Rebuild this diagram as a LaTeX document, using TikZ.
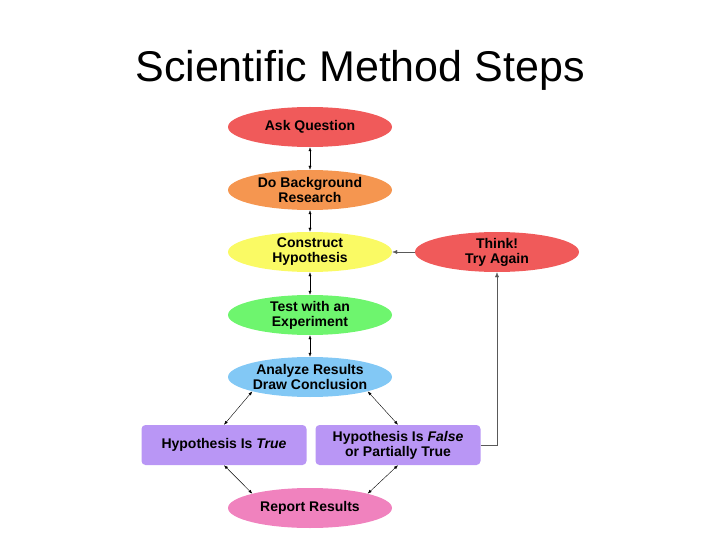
\documentclass[tikz,border=0pt]{standalone}
\usepackage{fontspec}
\setmainfont{Liberation Sans}
\usetikzlibrary{shapes.geometric,arrows.meta}
\definecolor{StepRed}{RGB}{240,90,90}
\definecolor{StepOrange}{RGB}{245,150,80}
\definecolor{StepYellow}{RGB}{250,250,100}
\definecolor{StepGreen}{RGB}{110,245,110}
\definecolor{StepBlue}{RGB}{130,200,245}
\definecolor{StepPurple}{RGB}{185,150,245}
\definecolor{StepPink}{RGB}{240,130,190}

\begin{document}
\begin{tikzpicture}[x=1pt,y=-1pt,
  step/.style={ellipse,fill=#1,minimum width=164pt,minimum height=40pt,inner sep=0pt,align=center,font=\fontsize{14}{15}\selectfont\bfseries},
  box/.style={rectangle,rounded corners=4pt,fill=StepPurple,minimum width=165pt,minimum height=40pt,inner sep=0pt,align=center,font=\fontsize{14}{15}\selectfont\bfseries},
  link/.style={{Latex[length=4pt,width=3pt]}-{Latex[length=4pt,width=3pt]},thin},
  back/.style={-{Latex[length=5pt,width=4pt]},thin,gray!70!black}]
\useasboundingbox (0,0) rectangle (720,540);
\node[font=\fontsize{43}{48}\selectfont] (title) at (360,70) {Scientific Method Steps};
\node[step=StepRed] (ask) at (310,127) {Ask Question};
\node[step=StepOrange] (research) at (310,190) {Do Background\\Research};
\node[step=StepYellow] (hypo) at (310,252) {Construct\\Hypothesis};
\node[step=StepRed] (think) at (497,252) {Think!\\Try Again};
\node[step=StepGreen] (test) at (310,315) {Test with an\\Experiment};
\node[step=StepBlue] (analyze) at (310,377) {Analyze Results\\Draw Conclusion};
\node[box] (true) at (224,445) {Hypothesis Is \textit{True}};
\node[box] (false) at (398,445) {Hypothesis Is \textit{False}\\or Partially True};
\node[step=StepPink] (report) at (310,508) {Report Results};
% connectors
\draw[link] (ask) -- (research);
\draw[link] (research) -- (hypo);
\draw[link] (hypo) -- (test);
\draw[link] (test) -- (analyze);
\draw[link] (analyze.194) -- (true.north);
\draw[link] (analyze.346) -- (false.north);
\draw[link] (true.south) -- (report.166);
\draw[link] (false.south) -- (report.14);
\draw[back] (think) -- (hypo);
\draw[back] (false.east) -| (think.south);
\end{tikzpicture}
\end{document}
